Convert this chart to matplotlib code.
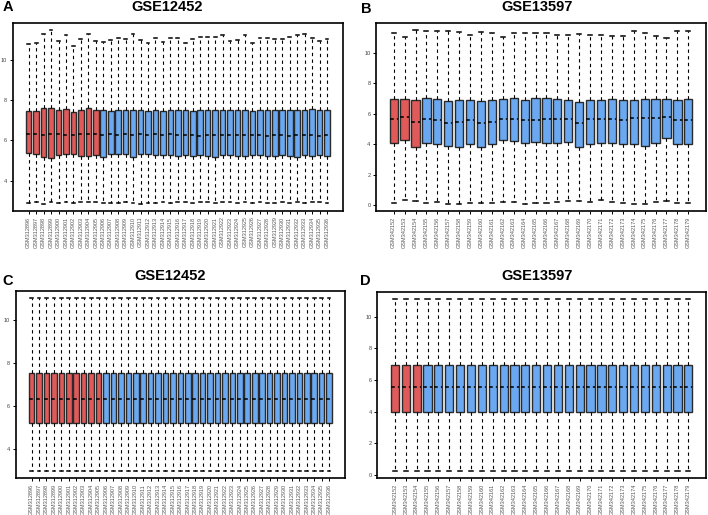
import numpy as np
import matplotlib.pyplot as plt

plt.rcParams['font.family'] = ['Liberation Sans', 'DejaVu Sans']

RED = '#E05A5A'
BLUE = '#6AA8F2'

# ---- GSE12452, raw (panel A) ----
a_samples = [f"GSM{n}" for n in range(312896, 312937)]
a_n_tumor = 10
a_whishi = [10.77, 10.82, 11.27, 11.46, 10.90, 11.20, 10.66, 11.02, 11.25, 10.90,
            10.85, 10.95, 11.07, 10.99, 11.25, 10.95, 10.80, 11.08, 10.87, 11.07,
            11.07, 10.82, 10.99, 11.13, 11.13, 11.10, 11.20, 10.90, 10.97, 11.20,
            10.84, 11.07, 11.07, 10.99, 10.99, 11.13, 11.23, 11.27, 11.07, 10.90,
            11.02]
a_q3 = [7.46, 7.46, 7.59, 7.62, 7.49, 7.57, 7.41, 7.52, 7.59, 7.51,
        7.53, 7.46, 7.51, 7.51, 7.53, 7.51, 7.44, 7.51, 7.46, 7.53,
        7.53, 7.50, 7.44, 7.51, 7.53, 7.53, 7.53, 7.51, 7.53, 7.50,
        7.44, 7.52, 7.52, 7.51, 7.53, 7.51, 7.53, 7.53, 7.56, 7.53,
        7.51]
a_med = [6.33, 6.30, 6.28, 6.32, 6.30, 6.27, 6.29, 6.31, 6.33, 6.30,
         6.26, 6.30, 6.28, 6.31, 6.29, 6.32, 6.27, 6.30, 6.29, 6.31,
         6.28, 6.25, 6.27, 6.24, 6.26, 6.28, 6.25, 6.27, 6.26, 6.28,
         6.25, 6.27, 6.24, 6.26, 6.28, 6.23, 6.25, 6.27, 6.26, 6.24,
         6.26]
a_q1 = [5.36, 5.33, 5.20, 5.12, 5.28, 5.33, 5.33, 5.23, 5.23, 5.28,
        5.16, 5.33, 5.33, 5.33, 5.16, 5.33, 5.33, 5.28, 5.28, 5.28,
        5.25, 5.30, 5.22, 5.28, 5.25, 5.20, 5.30, 5.28, 5.22, 5.25,
        5.28, 5.30, 5.25, 5.22, 5.28, 5.25, 5.20, 5.28, 5.25, 5.30,
        5.22]
a_whislo = [2.93, 2.95, 2.88, 2.95, 2.93, 2.97, 2.90, 2.95, 2.95, 2.96,
            2.93, 2.92, 2.92, 2.95, 2.92, 2.86, 2.93, 2.93, 2.95, 2.93,
            2.95, 2.95, 2.93, 2.95, 2.95, 2.93, 2.95, 2.95, 2.93, 2.95,
            2.93, 2.95, 2.90, 2.92, 2.95, 2.93, 2.97, 2.92, 2.95, 2.97,
            2.93]

# ---- GSE13597, raw (panel B) ----
b_samples = [f"GSM{n}" for n in range(342152, 342180)]
b_n_tumor = 3
b_whishi = [11.26, 11.00, 11.48, 11.39, 11.44, 11.39, 11.33, 11.16, 11.33, 11.26,
            11.00, 11.29, 11.29, 11.29, 11.29, 11.16, 11.16, 11.22, 11.16, 11.16,
            11.11, 11.07, 11.39, 11.29, 11.11, 10.96, 11.44, 11.44]
b_q3 = [6.97, 6.97, 6.91, 7.01, 6.97, 6.86, 6.93, 6.93, 6.86, 6.93,
        6.97, 7.01, 6.93, 7.01, 7.01, 6.97, 6.91, 6.75, 6.93, 6.93,
        6.97, 6.91, 6.93, 6.97, 6.97, 6.97, 6.93, 6.97]
b_med = [5.67, 5.77, 5.44, 5.67, 5.60, 5.38, 5.44, 5.56, 5.38, 5.44,
         5.67, 5.67, 5.56, 5.60, 5.67, 5.67, 5.67, 5.38, 5.67, 5.67,
         5.67, 5.60, 5.73, 5.73, 5.73, 5.77, 5.56, 5.56]
b_q1 = [4.10, 4.30, 3.85, 4.10, 4.05, 3.90, 3.85, 4.00, 3.80, 4.05,
        4.30, 4.20, 4.10, 4.15, 4.10, 4.10, 4.15, 3.80, 4.05, 4.10,
        4.10, 4.00, 4.05, 3.90, 4.10, 4.40, 4.00, 4.00]
b_whislo = [0.15, 0.37, 0.26, 0.15, 0.22, 0.11, 0.11, 0.15, 0.17, 0.17,
            0.22, 0.22, 0.11, 0.17, 0.17, 0.22, 0.26, 0.28, 0.22, 0.33,
            0.22, 0.17, 0.11, 0.09, 0.22, 0.30, 0.17, 0.17]

# ---- normalized (panels C, D): every sample identical ----
c_stats = dict(whislo=2.94, q1=5.17, med=6.31, q3=7.53, whishi=11.01)
d_stats = dict(whislo=0.21, q1=4.00, med=5.54, q3=6.93, whishi=11.16)


def draw(ax, samples, n_tumor, whislo, q1, med, q3, whishi, yticks):
    n = len(samples)
    stats = [dict(whislo=whislo[i], q1=q1[i], med=med[i], q3=q3[i],
                  whishi=whishi[i], fliers=[]) for i in range(n)]
    pos = np.arange(1, n + 1)
    bp = ax.bxp(stats, positions=pos, widths=0.75, patch_artist=True,
                showfliers=False,
                boxprops=dict(edgecolor='#2b2b2b', linewidth=1.0),
                whiskerprops=dict(color='black', linestyle=(0, (3, 3)), linewidth=0.8),
                capprops=dict(color='black', linewidth=1.1),
                medianprops=dict(color='black', linestyle=(0, (2.5, 2)), linewidth=1.1))
    for i, patch in enumerate(bp['boxes']):
        patch.set_facecolor(RED if i < n_tumor else BLUE)
    lo, hi = min(whislo), max(whishi)
    pad = 0.04 * (hi - lo)
    ax.set_ylim(lo - pad, hi + pad)
    ax.set_xlim(0.5 - 0.04 * n, n + 0.5 + 0.04 * n)
    ax.set_xticks(pos)
    ax.set_xticklabels(samples, rotation=90, fontsize=4, color='#555555')
    ax.set_yticks(yticks)
    ax.set_yticklabels([str(t) for t in yticks], fontsize=4, color='#444444')
    ax.tick_params(length=2.5, width=0.7, pad=1.5)
    for s in ax.spines.values():
        s.set_linewidth(1.2)


fig = plt.figure(figsize=(7.08, 5.15), dpi=100)
W, H = 708, 515


def add_axes(l, r, t, b):
    return fig.add_axes([l / W, 1 - b / H, (r - l) / W, (b - t) / H])


axA = add_axes(12.7, 343, 23, 211)
axB = add_axes(376, 706, 23, 211)
axC = add_axes(15.7, 345, 291, 478.3)
axD = add_axes(377.3, 706, 291.7, 478.3)

draw(axA, a_samples, a_n_tumor, a_whislo, a_q1, a_med, a_q3, a_whishi, [4, 6, 8, 10])
draw(axB, b_samples, b_n_tumor, b_whislo, b_q1, b_med, b_q3, b_whishi, [0, 2, 4, 6, 8, 10])

nA, nB = len(a_samples), len(b_samples)
draw(axC, a_samples, a_n_tumor, [c_stats['whislo']] * nA, [c_stats['q1']] * nA,
     [c_stats['med']] * nA, [c_stats['q3']] * nA, [c_stats['whishi']] * nA, [4, 6, 8, 10])
draw(axD, b_samples, b_n_tumor, [d_stats['whislo']] * nB, [d_stats['q1']] * nB,
     [d_stats['med']] * nB, [d_stats['q3']] * nB, [d_stats['whishi']] * nB, [0, 2, 4, 6, 8, 10])

# titles and panel letters
for x, y, txt in [(167, 7, 'GSE12452'), (537, 7, 'GSE13597'),
                  (170, 275.5, 'GSE12452'), (537, 276, 'GSE13597')]:
    fig.text(x / W, 1 - y / H, txt, ha='center', va='center',
             fontsize=10.5, fontweight='bold')
for x, y, txt in [(8, 7, 'A'), (366, 9, 'B'), (7.5, 281, 'C'), (365, 281, 'D')]:
    fig.text(x / W, 1 - y / H, txt, ha='center', va='center',
             fontsize=10.5, fontweight='bold')

fig.savefig('out.png', dpi=100)
